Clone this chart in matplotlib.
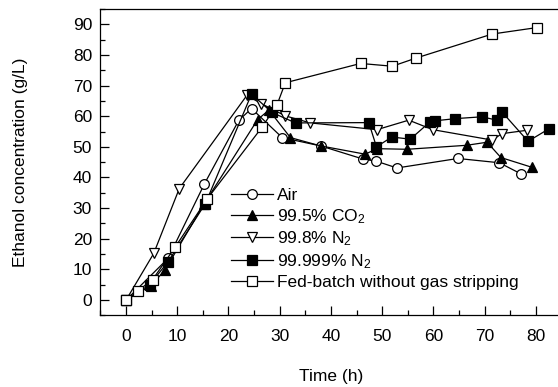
import matplotlib
matplotlib.use("Agg")
import matplotlib.pyplot as plt
from matplotlib.ticker import MultipleLocator

plt.rcParams['font.family'] = ['Liberation Sans', 'DejaVu Sans']
plt.rcParams['mathtext.fontset'] = 'custom'
plt.rcParams['mathtext.rm'] = 'Liberation Sans'
plt.rcParams['mathtext.it'] = 'Liberation Sans'

# ----------------------------
# Data
# ----------------------------
air_t = [0, 8.2, 15.3, 22.0, 24.5, 30.5, 38.0, 46.3, 48.9, 52.9, 64.8, 72.9, 77.2]
air_c = [0, 13.6, 37.9, 58.6, 62.5, 53.0, 50.3, 46.0, 45.3, 43.1, 46.2, 44.8, 41.1]

co2_t = [0, 4.8, 7.6, 15.2, 25.7, 27.9, 32.1, 38.0, 46.7, 49.0, 54.9, 66.5, 70.5, 73.2, 79.3]
co2_c = [0, 4.6, 9.8, 31.3, 58.9, 62.0, 53.0, 50.3, 47.6, 49.4, 49.2, 50.5, 51.5, 46.5, 43.3]

n2a_t = [0, 5.4, 10.4, 23.6, 26.4, 31.1, 36.0, 49.0, 55.2, 59.9, 71.5, 73.4, 78.3]
n2a_c = [0, 15.2, 36.4, 66.8, 64.1, 60.1, 57.8, 55.6, 58.7, 55.6, 52.2, 54.3, 55.4]

n2b_t = [0, 4.6, 8.2, 15.5, 24.5, 28.5, 33.1, 47.4, 48.9, 51.9, 55.5, 59.4, 60.4, 64.3, 69.5, 72.4, 73.4, 78.5, 82.5]
n2b_c = [0, 5.0, 12.5, 31.5, 67.2, 61.2, 57.8, 57.9, 50.0, 53.2, 52.5, 58.2, 58.5, 59.2, 59.8, 58.7, 61.4, 51.8, 55.8]

fed_t = [0, 2.3, 5.2, 9.6, 15.8, 26.6, 29.5, 31.1, 45.8, 52.0, 56.7, 71.5, 80.2]
fed_c = [0, 3.0, 6.7, 17.3, 32.9, 56.5, 63.8, 70.9, 77.2, 76.3, 79.0, 86.8, 88.9]

labels = ['Air', '99.5% CO$_2$', '99.8% N$_2$', '99.999% N$_2$',
          'Fed-batch without gas stripping']

# ----------------------------
# Plot
# ----------------------------
fig = plt.figure(figsize=(5.58, 3.87), dpi=100)
ax = fig.add_axes([0.180, 0.185, 0.826, 0.792])

style = dict(color='black', lw=0.9, mec='black', mew=0.9)
ax.plot(air_t, air_c, marker='o', ms=7, mfc='white', label=labels[0], **style)
ax.plot(co2_t, co2_c, marker='^', ms=7.5, mfc='black', label=labels[1], **style)
ax.plot(n2a_t, n2a_c, marker='v', ms=7.5, mfc='white', label=labels[2], **style)
ax.plot(n2b_t, n2b_c, marker='s', ms=6.5, mfc='black', label=labels[3], **style)
ax.plot(fed_t, fed_c, marker='s', ms=6.5, mfc='white', label=labels[4], **style)

ax.set_xlim(-5, 85)
ax.set_ylim(-5, 95)
ax.xaxis.set_major_locator(MultipleLocator(10))
ax.xaxis.set_minor_locator(MultipleLocator(5))
ax.yaxis.set_major_locator(MultipleLocator(10))
ax.yaxis.set_minor_locator(MultipleLocator(5))
ax.tick_params(which='both', direction='in', labelsize=12.5, width=0.9)
ax.tick_params(axis='x', which='both', pad=10)
ax.tick_params(axis='y', which='both', pad=6)
ax.tick_params(which='major', length=6.5)
ax.tick_params(which='minor', length=3.5)
for s in ax.spines.values():
    s.set_linewidth(0.9)

ax.set_xlabel('Time (h)', fontsize=12.5, labelpad=18)
ax.set_ylabel('Ethanol concentration (g/L)', fontsize=12.5, labelpad=32)

fig.legend(loc='upper left', bbox_to_anchor=(231 / 558, 1 - 188 / 387),
           frameon=False, fontsize=12.5, handlelength=2.4, handletextpad=0.25,
           labelspacing=0.22, borderpad=0, borderaxespad=0)

fig.savefig('out.png', dpi=100)
